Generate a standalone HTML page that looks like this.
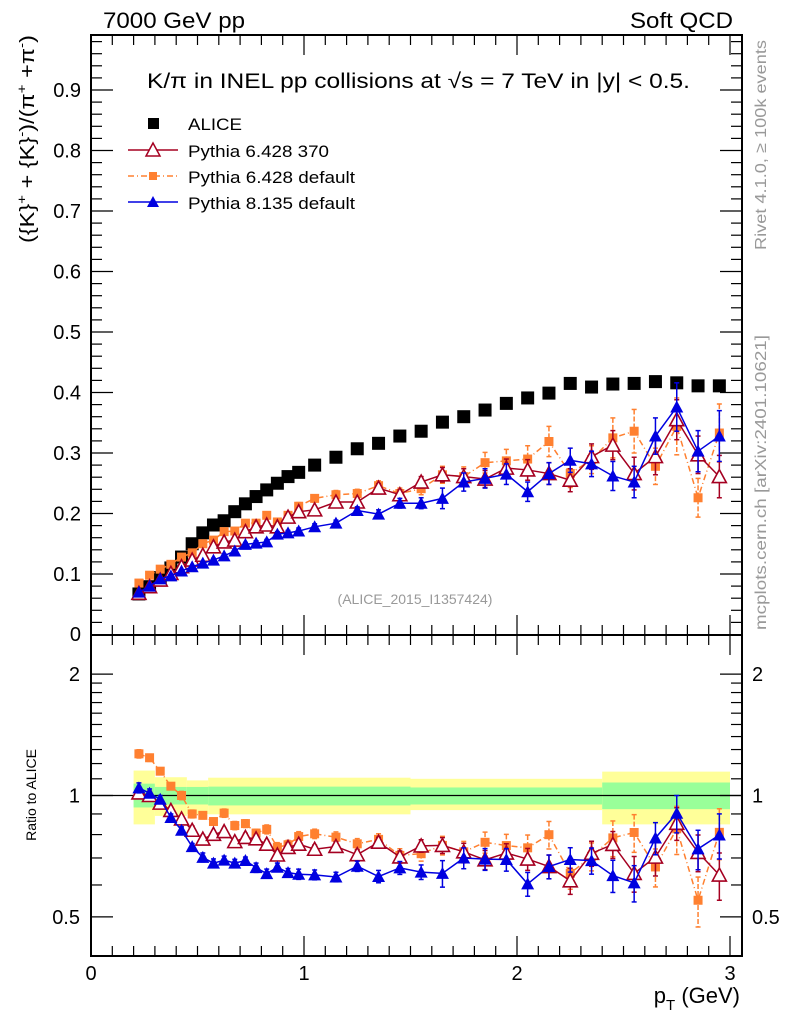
<!DOCTYPE html>
<html><head><meta charset="utf-8"><style>
body{margin:0;background:#fff}
svg text{font-family:"Liberation Sans",sans-serif}
</style></head><body>
<svg id="c" width="786" height="1024" viewBox="0 0 786 1024" xmlns="http://www.w3.org/2000/svg">
<text x="103" y="28" font-size="22" textLength="142" lengthAdjust="spacingAndGlyphs">7000 GeV pp</text>
<text x="630" y="28" font-size="22" textLength="103" lengthAdjust="spacingAndGlyphs">Soft QCD</text>
<text x="147" y="88" font-size="21" textLength="543" lengthAdjust="spacingAndGlyphs">K/π in INEL pp collisions at √s =  7 TeV in |y| &lt; 0.5.</text>
<text x="415" y="604" font-size="14" fill="#999" text-anchor="middle">(ALICE_2015_I1357424)</text>
<text transform="translate(34,243) rotate(-90)" font-size="20" textLength="208" lengthAdjust="spacingAndGlyphs">({K}<tspan dy="-8" font-size="13">+</tspan><tspan dy="8"> + {K}</tspan><tspan dy="-8" font-size="13">-</tspan><tspan dy="8">)/(π</tspan><tspan dy="-8" font-size="13">+</tspan><tspan dy="8"> +π</tspan><tspan dy="-8" font-size="13">-</tspan><tspan dy="8">)</tspan></text>
<text transform="translate(36,795) rotate(-90)" font-size="14" text-anchor="middle">Ratio to ALICE</text>
<text transform="translate(766,250) rotate(-90)" font-size="16" fill="#999" textLength="210" lengthAdjust="spacingAndGlyphs">Rivet 4.1.0, ≥ 100k events</text>
<text transform="translate(766,630) rotate(-90)" font-size="16" fill="#999" textLength="295" lengthAdjust="spacingAndGlyphs">mcplots.cern.ch [arXiv:2401.10621]</text>
<text x="740" y="1003" font-size="22" text-anchor="end">p<tspan dy="7" font-size="15">T</tspan><tspan dy="-7"> (GeV)</tspan></text>
<g id="legend">
<rect x="148" y="118" width="11" height="11" fill="#000"/>
<text x="188" y="130" font-size="17" textLength="54" lengthAdjust="spacingAndGlyphs">ALICE</text>
<line x1="128" y1="150" x2="178" y2="150" stroke="#a50021" stroke-width="1.5"/>
<path d="M153,143 L160,156 L146,156 Z" fill="#fff" stroke="#a50021" stroke-width="1.5"/>
<text x="188" y="157" font-size="17" textLength="141" lengthAdjust="spacingAndGlyphs">Pythia 6.428 370</text>
<line x1="128" y1="176" x2="178" y2="176" stroke="#ff8030" stroke-width="1.5" stroke-dasharray="6,3,1,3"/>
<rect x="149" y="172" width="8" height="8" fill="#ff8030"/>
<text x="188" y="183" font-size="17" textLength="167" lengthAdjust="spacingAndGlyphs">Pythia 6.428 default</text>
<line x1="128" y1="202" x2="178" y2="202" stroke="#0000e0" stroke-width="1.5"/>
<path d="M153,196 L159,207 L147,207 Z" fill="#0000e0"/>
<text x="188" y="209" font-size="17" textLength="167" lengthAdjust="spacingAndGlyphs">Pythia 8.135 default</text>
</g>
<g id="bands"></g>
<g id="marks"></g>
<g id="axes"></g>
</svg>
<script>
const ptValues=[0.225,0.275,0.325,0.375,0.425,0.475,0.525,0.575,0.625,0.675,0.725,0.775,0.825,0.875,0.925,0.975,1.05,1.15,1.25,1.35,1.45,1.55,1.65,1.75,1.85,1.95,2.05,2.15,2.25,2.35,2.45,2.55,2.65,2.75,2.85,2.95];
const aliceValues=[0.067,0.079,0.094,0.110,0.128,0.150,0.168,0.181,0.188,0.203,0.216,0.228,0.239,0.250,0.261,0.268,0.280,0.293,0.307,0.316,0.328,0.336,0.351,0.360,0.371,0.382,0.391,0.399,0.415,0.409,0.414,0.415,0.418,0.416,0.411,0.411];
const p6a370Values=[0.068,0.079,0.090,0.101,0.112,0.123,0.131,0.145,0.153,0.156,0.170,0.178,0.181,0.178,0.194,0.203,0.206,0.219,0.219,0.242,0.231,0.252,0.264,0.261,0.257,0.275,0.272,0.266,0.255,0.294,0.313,0.266,0.294,0.355,0.297,0.261];
const p6defValues=[0.085,0.098,0.108,0.116,0.128,0.135,0.150,0.156,0.170,0.171,0.184,0.184,0.197,0.186,0.197,0.212,0.225,0.231,0.233,0.246,0.233,0.241,0.264,0.261,0.284,0.287,0.290,0.319,0.266,0.289,0.325,0.336,0.278,0.344,0.226,0.333];
const p8Values=[0.070,0.080,0.092,0.097,0.105,0.112,0.118,0.123,0.130,0.138,0.149,0.151,0.153,0.166,0.168,0.171,0.178,0.184,0.205,0.199,0.217,0.217,0.225,0.252,0.258,0.265,0.236,0.266,0.288,0.282,0.262,0.252,0.328,0.376,0.303,0.328];
const p6a370Err=[0.002,0.002,0.002,0.002,0.002,0.003,0.003,0.003,0.003,0.003,0.004,0.004,0.004,0.004,0.005,0.005,0.005,0.006,0.006,0.007,0.008,0.009,0.012,0.013,0.014,0.015,0.017,0.018,0.019,0.021,0.024,0.027,0.030,0.033,0.031,0.035];
const p6defErr=[0.002,0.002,0.002,0.002,0.003,0.003,0.003,0.003,0.004,0.004,0.004,0.004,0.005,0.005,0.005,0.006,0.006,0.007,0.007,0.008,0.009,0.010,0.014,0.016,0.017,0.019,0.022,0.025,0.023,0.023,0.033,0.036,0.030,0.047,0.032,0.048];
const p8Err=[0.002,0.002,0.002,0.002,0.002,0.002,0.003,0.003,0.003,0.003,0.003,0.004,0.004,0.004,0.004,0.005,0.005,0.005,0.006,0.007,0.008,0.009,0.017,0.015,0.016,0.017,0.016,0.018,0.020,0.021,0.024,0.026,0.030,0.040,0.034,0.042];
const bandEdges=[0.2,0.3,0.45,0.55,1.5,2.4,3.0];
const yellowHi=[1.153,1.11,1.09,1.107,1.10,1.146];
const yellowLo=[0.848,0.89,0.90,0.898,0.92,0.848];
const greenHi=[1.07,1.05,1.05,1.052,1.047,1.077];
const greenLo=[0.934,0.95,0.95,0.945,0.95,0.925];
const mainTicks=[0.1,0.2,0.3,0.4,0.5,0.6,0.7,0.8,0.9];
const ratioTicks=[0.5,1,2];
const xTicks=[0,1,2,3];

const X0=91,X1=742,XMAX=(742-91)/213;
const sx=v=>X0+v*213;
const MT=35,MB=634.5,YMAX=(MB-MT)/605;
const sy=v=>MB-v*605;
const RT=635,RB=956,RL=-1.322;
const sr=r=>RB-(Math.log2(r)-RL)*(RB-RT)/(2*1.322);
const NS='http://www.w3.org/2000/svg';
function mk(tag,attrs,parent){const e=document.createElementNS(NS,tag);for(const k in attrs)e.setAttribute(k,attrs[k]);parent.appendChild(e);return e;}
const gB=document.getElementById('bands'),gM=document.getElementById('marks'),gA=document.getElementById('axes');

for(let i=0;i<bandEdges.length-1;i++){
 const x=sx(bandEdges[i]),w=sx(bandEdges[i+1])-x;
 const y=mk('rect',{x:x,y:sr(yellowHi[i]),width:w,height:sr(yellowLo[i])-sr(yellowHi[i]),fill:'#ffff99'},gB);
 
 
 const g=mk('rect',{x:x,y:sr(greenHi[i]),width:w,height:sr(greenLo[i])-sr(greenHi[i]),fill:'#99ff99'},gB);
 
 
}
mk('line',{x1:X0,x2:X1,y1:sr(1),y2:sr(1),stroke:'#000','stroke-width':1.3},gB);

const series=[
 {vals:p6defValues,err:p6defErr,col:'#ff8030',dash:'6,3,1,3',mk:'sq',name:'p6-default'},
 {vals:p6a370Values,err:p6a370Err,col:'#a50021',dash:'',mk:'otri',name:'p6-370'},
 {vals:p8Values,err:p8Err,col:'#0000e0',dash:'',mk:'tri',name:'p8'}
];
function marker(type,x,y,col,name){
 let e;
 if(type==='sq')e=mk('rect',{x:x-4.5,y:y-4.5,width:9,height:9,fill:col},gM);
 else if(type==='otri')e=mk('path',{d:`M${x},${y-7}L${x+7},${y+6}L${x-7},${y+6}Z`,fill:'#fff',stroke:col,'stroke-width':1.6},gM);
 else e=mk('path',{d:`M${x},${y-6.5}L${x+6.5},${y+5.5}L${x-6.5},${y+5.5}Z`,fill:col},gM);
 
 
}
function drawSeries(s,fy,fv,fe){
 const pts=ptValues.map((p,i)=>[sx(p),fy(fv(i))]);
 const pl=mk('polyline',{points:pts.map(p=>p.join(',')).join(' '),fill:'none',stroke:s.col,'stroke-width':1.5},gM);
 if(s.dash)pl.setAttribute('stroke-dasharray',s.dash);
 
 
 ptValues.forEach((p,i)=>{
  const x=sx(p),v=fv(i),e=fe(i);
  const y1=fy(v+e),y2=fy(Math.max(v-e,0.01));
  if(y2-y1>3){
   const a={stroke:s.col,'stroke-width':1.5};
   const l=mk('line',Object.assign({x1:x,x2:x,y1:y1,y2:y2},a),gM); if(s.dash)l.setAttribute('stroke-dasharray','5,2');
   mk('line',Object.assign({x1:x-2.5,x2:x+2.5,y1:y1,y2:y1},a),gM);
   mk('line',Object.assign({x1:x-2.5,x2:x+2.5,y1:y2,y2:y2},a),gM);
  }
  marker(s.mk,x,fy(v),s.col,s.name+'-point');
 });
}
ptValues.forEach((p,i)=>{
 const r=mk('rect',{x:sx(p)-6.5,y:sy(aliceValues[i])-6.5,width:13,height:13,fill:'#000'},gM);
 
 
});
series.forEach(s=>drawSeries(s,sy,i=>s.vals[i],i=>s.err[i]));
series.forEach(s=>drawSeries(s,sr,i=>s.vals[i]/aliceValues[i],i=>s.err[i]/aliceValues[i]));

const f1=mk('rect',{x:X0,y:MT,width:X1-X0,height:RT-MT,fill:'none',stroke:'#000','stroke-width':2},gA);


const f2=mk('rect',{x:X0,y:RT,width:X1-X0,height:RB-RT,fill:'none',stroke:'#000','stroke-width':2},gA);


const tk={stroke:'#000','stroke-width':1.2};
for(let k=1;k<=49;k++){const v=k*0.02;if(v>YMAX)break;const y=sy(v),L=(k%5===0)?22:11;
 mk('line',Object.assign({x1:X0,x2:X0+L,y1:y,y2:y},tk),gA);mk('line',Object.assign({x1:X1,x2:X1-L,y1:y,y2:y},tk),gA);}
mainTicks.forEach(v=>{const t=mk('text',{x:81,y:sy(v)+7,'font-size':20,'text-anchor':'end'},gA);t.textContent=v.toFixed(1);
 
 });
const z=mk('text',{x:81,y:641,'font-size':20,'text-anchor':'end'},gA);z.textContent='0';
[0.5,0.6,0.7,0.8,0.9,1,1.1,1.2,1.3,1.4,1.5,1.6,1.7,1.8,1.9,2].forEach(r=>{const y=sr(r),L=ratioTicks.includes(r)?22:11;
 mk('line',Object.assign({x1:X0,x2:X0+L,y1:y,y2:y},tk),gA);mk('line',Object.assign({x1:X1,x2:X1-L,y1:y,y2:y},tk),gA);});
ratioTicks.forEach(r=>{const lab=String(r);
 const a=mk('text',{x:80,y:sr(r)+7,'font-size':20,'text-anchor':'end'},gA);a.textContent=lab;
 
 
 const b=mk('text',{x:752,y:sr(r)+7,'font-size':20},gA);b.textContent=lab;
 
 });
for(let k=0;k<=30;k++){const v=k*0.1;const x=sx(v),L=(k%10===0)?20:10;
 [[MT,1],[RT,-1],[RT,1],[RB,-1]].forEach(([y,d])=>mk('line',Object.assign({x1:x,x2:x,y1:y,y2:y+d*L},tk),gA));}
xTicks.forEach(v=>{const t=mk('text',{x:sx(v),y:980,'font-size':20,'text-anchor':'middle'},gA);t.textContent=v;
 
 });
</script>
</body></html>
